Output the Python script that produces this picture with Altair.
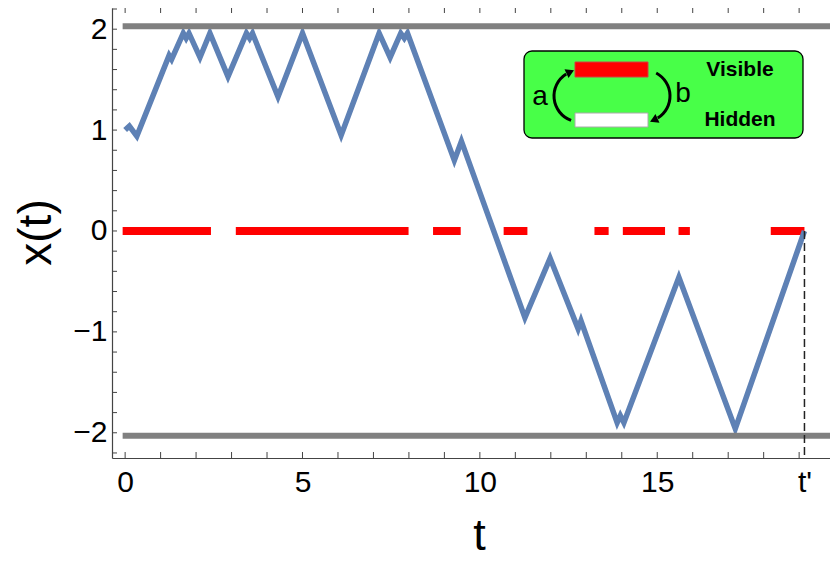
import altair as alt
import pandas as pd
import math

# ---- data ----
path_t = [0.00, 0.12, 0.33, 1.24, 1.31, 1.64, 1.72, 1.80, 2.11, 2.39, 2.90, 3.42, 3.51, 3.59,
          4.31, 5.00, 6.09, 7.16, 7.47, 7.77, 7.87, 7.96, 9.28, 9.48, 11.27, 11.98, 12.77,
          12.85, 13.87, 13.96, 14.06, 15.61, 17.20, 19.15]
path_x = [1.00, 1.04, 0.94, 1.74, 1.70, 1.96, 1.91, 1.96, 1.72, 1.96, 1.53, 1.96, 1.91, 1.96,
          1.33, 1.96, 0.95, 1.96, 1.72, 1.96, 1.91, 1.96, 0.70, 0.89, -0.86, -0.27, -0.97,
          -0.89, -1.90, -1.83, -1.90, -0.46, -1.96, 0.00]

visible_start = [-0.07, 3.12, 8.68, 10.67, 13.23, 14.03, 15.60, 18.20]
visible_end = [2.42, 7.99, 9.46, 11.34, 13.63, 15.22, 15.92, 19.15]

barrier_levels = [2.03, -2.03]
barrier_from = -0.07
barrier_to = 19.87
t_prime = 19.15

x_label_values = [0, 5, 10, 15, 19.15]
x_label_texts = ["0", "5", "10", "15", "t'"]
y_label_values = [-2, -1, 0, 1, 2]
x_minor_ticks = [0, 1, 2, 3, 4, 5, 6, 7, 8, 9, 10, 11, 12, 13, 14, 15, 16, 17, 18, 19]
y_minor_ticks = [-2.2, -2.0, -1.8, -1.6, -1.4, -1.2, -1.0, -0.8, -0.6, -0.4, -0.2, 0.0,
                 0.2, 0.4, 0.6, 0.8, 1.0, 1.2, 1.4, 1.6, 1.8, 2.0, 2.2]

# ---- layout ----
W, H = 718, 450
FONT = "Liberation Sans"
BLUE = "#5E81B5"

xs = alt.Scale(domain=[-0.37, 19.87], nice=False, zero=False)
ys = alt.Scale(domain=[-2.25, 2.21], nice=False, zero=False)

label_expr = " : ".join(
    [f"abs(datum.value - {v}) < 0.01 ? '{s}'" for v, s in zip(x_label_values, x_label_texts)]
) + " : datum.label"
label_expr = label_expr.replace("'t''", "\"t'\"")

x_axis = alt.Axis(values=x_label_values, labelExpr=label_expr, title="t", ticks=False,
                  grid=False, labelPadding=9, labelFontSize=30, labelFont=FONT,
                  labelColor="black", domainColor="#444", domainWidth=1.2,
                  titleFontSize=45, titleFont=FONT, titleFontWeight="normal",
                  titleColor="black", titleX=367, titleY=77, titleBaseline="middle",
                  titleAlign="center", labelFlush=False, labelOverlap=False)
y_axis = alt.Axis(values=y_label_values, title="x(t)", ticks=False, grid=False,
                  labelPadding=5, labelFontSize=30, labelFont=FONT, labelColor="black",
                  domainColor="#444", domainWidth=1.2, titleFontSize=46, titleFont=FONT,
                  titleFontWeight="normal", titleColor="black", titleX=-76, titleY=224,
                  titleBaseline="middle", titleAlign="center", titleAngle=270,
                  labelFlush=False, labelOverlap=False)


def X(f):
    return alt.X(f, type="quantitative", scale=xs, axis=x_axis)


def Y(f):
    return alt.Y(f, type="quantitative", scale=ys, axis=y_axis)


one = alt.Data(values=[{"k": 0}])

path_df = pd.DataFrame({"t": path_t, "x": path_x, "i": list(range(len(path_t)))})
vis_df = pd.DataFrame({"t": visible_start, "t2": visible_end, "x": [0.0] * len(visible_start)})
bar_df = pd.DataFrame({"t": [barrier_from] * 2, "t2": [barrier_to] * 2, "x": barrier_levels})
tp_df = pd.DataFrame({"t": [t_prime], "x": [0.0], "x2": [-2.25]})
xt_df = pd.DataFrame({"t": x_minor_ticks})
yt_df = pd.DataFrame({"x": y_minor_ticks})

red = alt.Chart(vis_df).mark_rule(color="#FF0000", strokeWidth=8, strokeCap="butt").encode(
    x=X("t"), x2="t2", y=Y("x"))

line = alt.Chart(path_df).mark_line(color=BLUE, strokeWidth=5.5, strokeJoin="miter",
                                    strokeMiterLimit=10).encode(
    x=X("t"), y=Y("x"), order="i:Q")

barriers = alt.Chart(bar_df).mark_rule(color="#808080", strokeWidth=6, strokeCap="butt").encode(
    x=X("t"), x2="t2", y=Y("x"))

tline = alt.Chart(tp_df).mark_rule(color="#222", strokeWidth=1.5, strokeDash=[8, 4]).encode(
    x=X("t"), y=Y("x"), y2="x2")

bottom_ticks = alt.Chart(xt_df).mark_rule(color="#444", strokeWidth=1).encode(
    x=X("t"), y=alt.value(H), y2=alt.value(H - 6))
top_ticks = alt.Chart(xt_df).mark_rule(color="#444", strokeWidth=1).encode(
    x=X("t"), y=alt.value(0), y2=alt.value(5))
left_ticks = alt.Chart(yt_df).mark_rule(color="#444", strokeWidth=1).encode(
    y=Y("x"), x=alt.value(0), x2=alt.value(5))

# ---- inset schematic ----
box = alt.Chart(one).mark_rect(fill="#48FF48", stroke="black", strokeWidth=1.3,
                               cornerRadius=8).encode(
    x=alt.value(412), x2=alt.value(691), y=alt.value(43), y2=alt.value(130))
red_rect = alt.Chart(one).mark_rect(fill="#FF0000", stroke="#D04040", strokeWidth=1).encode(
    x=alt.value(463), x2=alt.value(536), y=alt.value(54), y2=alt.value(69))
white_rect = alt.Chart(one).mark_rect(fill="white", stroke="#AAAAAA", strokeWidth=1).encode(
    x=alt.value(463), x2=alt.value(536), y=alt.value(105), y2=alt.value(119))

deg = math.pi / 180
arc_left = alt.Chart(one).mark_arc(color="black").encode(
    x=alt.value(468), y=alt.value(88),
    theta=alt.value(200 * deg), theta2=alt.value(328 * deg),
    radius=alt.value(27.5), radius2=alt.value(24.5))
arc_right = alt.Chart(one).mark_arc(color="black").encode(
    x=alt.value(532), y=alt.value(88),
    theta=alt.value(28 * deg), theta2=alt.value(148 * deg),
    radius=alt.value(27.5), radius2=alt.value(24.5))
head_left = alt.Chart(one).mark_point(shape="triangle", filled=True, color="black",
                                      size=90, angle=65, opacity=1).encode(
    x=alt.value(457), y=alt.value(64.5))
head_right = alt.Chart(one).mark_point(shape="triangle", filled=True, color="black",
                                       size=90, angle=245, opacity=1).encode(
    x=alt.value(543), y=alt.value(111.5))

txt_vis = alt.Chart(one).mark_text(font=FONT, fontWeight="bold", fontSize=21, color="black",
                                   align="center", baseline="middle").encode(
    x=alt.value(628), y=alt.value(62), text=alt.value("Visible"))
txt_hid = alt.Chart(one).mark_text(font=FONT, fontWeight="bold", fontSize=21, color="black",
                                   align="center", baseline="middle").encode(
    x=alt.value(628), y=alt.value(112), text=alt.value("Hidden"))
txt_a = alt.Chart(one).mark_text(font=FONT, fontSize=28, color="black",
                                 align="center", baseline="middle").encode(
    x=alt.value(428), y=alt.value(89), text=alt.value("a"))
txt_b = alt.Chart(one).mark_text(font=FONT, fontSize=28, color="black",
                                 align="center", baseline="middle").encode(
    x=alt.value(571), y=alt.value(86), text=alt.value("b"))

chart = alt.layer(
    red, line, barriers, tline, bottom_ticks, top_ticks, left_ticks,
    box, red_rect, white_rect, arc_left, arc_right, head_left, head_right,
    txt_vis, txt_hid, txt_a, txt_b
).properties(
    width=W, height=H,
    padding={"left": 104, "top": 0, "right": 0, "bottom": 100},
    autosize=alt.AutoSizeParams(type="none"),
    background="white",
).configure_view(stroke=None)

chart.save("out.html", embed_options={"renderer": "svg", "actions": False})
